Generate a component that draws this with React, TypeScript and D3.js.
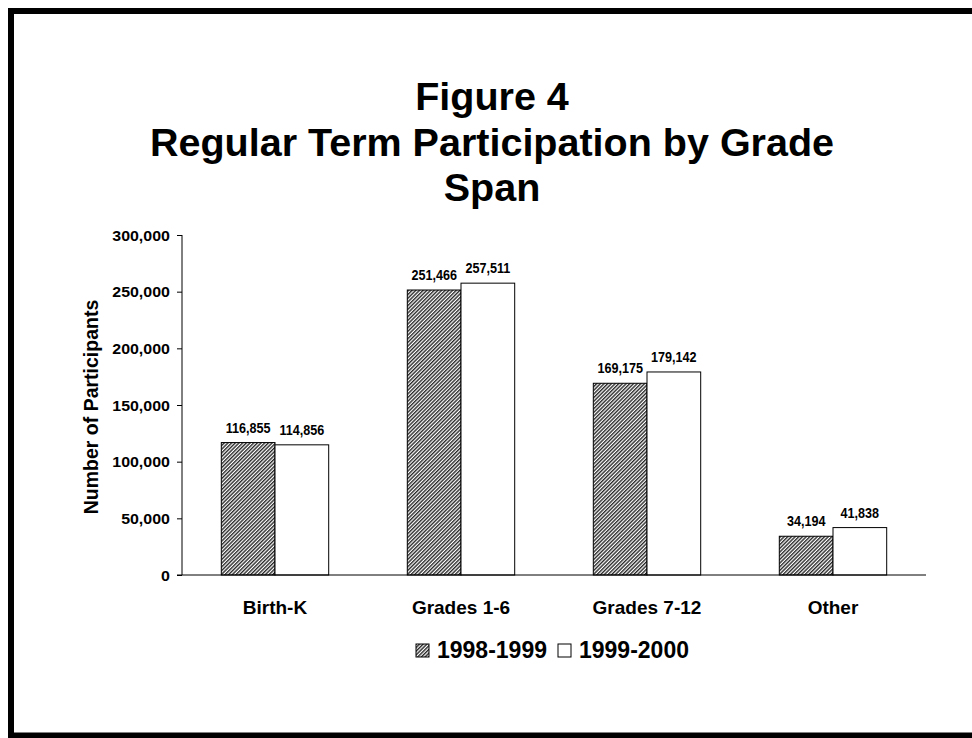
import React, { useRef, useEffect } from "react";
import * as d3 from "d3";

const categories = ["Birth-K", "Grades 1-6", "Grades 7-12", "Other"];
const seriesNames = ["1998-1999", "1999-2000"];
const values1998 = [116855, 251466, 169175, 34194];
const values1999 = [114856, 257511, 179142, 41838];
const yTicks = [0, 50000, 100000, 150000, 200000, 250000, 300000];
const titleLines = ["Figure 4", "Regular Term Participation by Grade", "Span"];

const FONT = "'Liberation Sans', Arial, sans-serif";

function App() {
  const svgRef = useRef<SVGSVGElement | null>(null);

  useEffect(() => {
    const svg = d3.select(svgRef.current);
    svg.selectAll("*").remove();

    // hatch pattern for the first series
    const defs = svg.append("defs");
    const pat = defs.append("pattern")
      .attr("id", "hatch")
      .attr("patternUnits", "userSpaceOnUse")
      .attr("width", 2.6)
      .attr("height", 2.6)
      .attr("patternTransform", "rotate(-45)");
    pat.append("rect").attr("width", 2.6).attr("height", 2.6).attr("fill", "#ffffff");
    pat.append("rect").attr("width", 2.6).attr("height", 1.4).attr("fill", "#2a2a2a");

    // outer frame (right side runs off the page)
    svg.append("rect")
      .attr("x", 11).attr("y", 11)
      .attr("width", 1000).attr("height", 724.5)
      .attr("fill", "none").attr("stroke", "#000").attr("stroke-width", 6);

    // title
    svg.append("g").selectAll("text")
      .data(titleLines)
      .enter()
      .append("text")
      .attr("x", 492)
      .attr("y", (d, i) => 110 + i * 45.5)
      .attr("text-anchor", "middle")
      .style("font-family", FONT)
      .style("font-weight", "bold")
      .style("font-size", "39.5px")
      .text(d => d);

    const x0 = d3.scaleBand<string>()
      .domain(categories)
      .range([182, 926])
      .paddingInner(0.4226)
      .paddingOuter(0.2113);
    const x1 = d3.scaleBand<string>()
      .domain(seriesNames)
      .range([0, x0.bandwidth()]);
    const y = d3.scaleLinear().domain([0, 300000]).range([575, 235]);

    const rows = categories.map((c, i) => ({
      category: c,
      vals: [
        { series: seriesNames[0], value: values1998[i] },
        { series: seriesNames[1], value: values1999[i] },
      ],
    }));
    const fills = ["url(#hatch)", "#ffffff"];

    const groups = svg.append("g").selectAll("g")
      .data(rows)
      .enter()
      .append("g")
      .attr("transform", d => `translate(${x0(d.category)},0)`);

    groups.selectAll("rect")
      .data(d => d.vals)
      .enter()
      .append("rect")
      .attr("x", d => x1(d.series)!)
      .attr("y", d => y(d.value))
      .attr("width", x1.bandwidth())
      .attr("height", d => y(0) - y(d.value))
      .attr("fill", (d, i) => fills[i])
      .attr("stroke", "#000")
      .attr("stroke-width", 1);

    groups.selectAll("text")
      .data(d => d.vals)
      .enter()
      .append("text")
      .attr("transform", d => `translate(${x1(d.series)! + x1.bandwidth() / 2},${y(d.value) - 10}) scale(0.9,1)`)
      .attr("text-anchor", "middle")
      .style("font-family", FONT)
      .style("font-weight", "bold")
      .style("font-size", "14px")
      .text(d => d3.format(",")(d.value));

    // y axis
    const yAxis = svg.append("g")
      .attr("transform", "translate(182,0)")
      .call(d3.axisLeft(y).tickValues(yTicks).tickSize(5).tickFormat(d3.format(",") as any));
    yAxis.select(".domain").attr("stroke", "#000").attr("d", "M0,235V575");
    yAxis.selectAll(".tick line").attr("stroke", "#000");
    yAxis.selectAll(".tick text")
      .attr("x", -11)
      .attr("dy", "0.35em")
      .attr("transform", "scale(1.1,1)")
      .style("font-family", FONT)
      .style("font-weight", "bold")
      .style("font-size", "14.5px")
      .attr("fill", "#000");

    // baseline
    svg.append("line")
      .attr("x1", 177).attr("x2", 926)
      .attr("y1", y(0)).attr("y2", y(0))
      .attr("stroke", "#000").attr("stroke-width", 1);

    // category labels
    svg.append("g").selectAll("text")
      .data(categories)
      .enter()
      .append("text")
      .attr("x", d => x0(d)! + x0.bandwidth() / 2)
      .attr("y", 614)
      .attr("text-anchor", "middle")
      .style("font-family", FONT)
      .style("font-weight", "bold")
      .style("font-size", "19px")
      .text(d => d);

    // y axis title
    svg.append("text")
      .attr("transform", "translate(98,407) rotate(-90)")
      .attr("text-anchor", "middle")
      .style("font-family", FONT)
      .style("font-weight", "bold")
      .style("font-size", "19.5px")
      .text("Number of Participants");

    // legend
    const legend = svg.append("g");
    const legendX = [416, 558];
    seriesNames.forEach((s, i) => {
      legend.append("rect")
        .attr("x", legendX[i]).attr("y", 644)
        .attr("width", 13).attr("height", 13)
        .attr("fill", fills[i])
        .attr("stroke", "#000").attr("stroke-width", 1);
      legend.append("text")
        .attr("x", legendX[i] + 21).attr("y", 658)
        .style("font-family", FONT)
        .style("font-weight", "bold")
        .style("font-size", "23px")
        .text(s);
    });

    return () => {
      d3.select(svgRef.current).selectAll("*").remove();
    };
  }, []);

  return (
    <svg ref={svgRef} width={972} height={738}
      style={{ position: "absolute", left: 0, top: 0, background: "#fff" }} />
  );
}

export default App;
